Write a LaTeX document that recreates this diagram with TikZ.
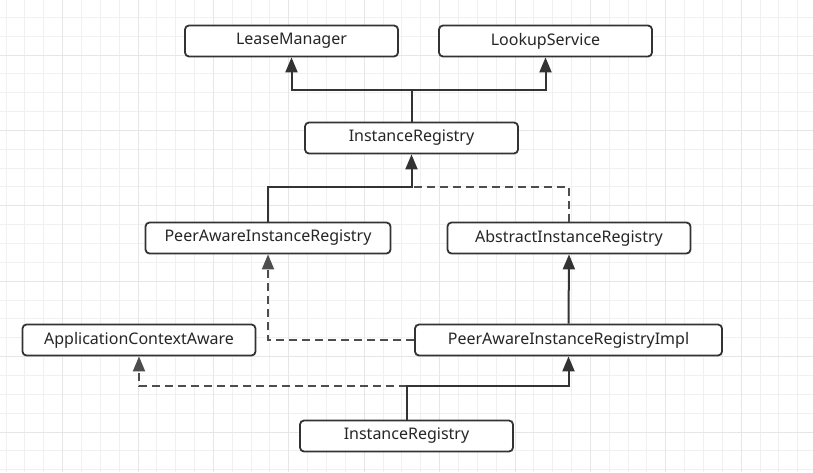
\documentclass[tikz,border=0pt]{standalone}
\usepackage{fontspec}
\setmainfont{Noto Sans}
\usetikzlibrary{arrows.meta}
\definecolor{gridminor}{HTML}{F0F0F0}
\definecolor{gridmajor}{HTML}{E6E6E6}
\definecolor{boxline}{HTML}{333333}
\definecolor{dashline}{HTML}{4D4D4D}
\begin{document}
\begin{tikzpicture}[x=1pt,y=-1pt,
  cls/.style={draw=boxline,line width=1.8pt,rounded corners=4pt,fill=white,
    minimum height=31pt,inner sep=0pt,font=\fontsize{16}{18}\selectfont,text=black!85},
  inh/.style={draw=boxline,line width=2pt,-{Triangle[width=12pt,length=15pt]}},
  impl/.style={draw=dashline,line width=2pt,dash pattern=on 8pt off 5pt,-{Triangle[width=12pt,length=15pt]}},
  implnoarrow/.style={draw=dashline,line width=2pt,dash pattern=on 8pt off 5pt}]
\useasboundingbox (0,0) rectangle (813,472);
\fill[white] (0,0) rectangle (813,472);
% grid
\foreach \i in {0,...,43} {
  \pgfmathsetmacro\gx{6+18.85*\i}
  \draw[gridminor,line width=0.9pt] (\gx,0) -- (\gx,472);
}
\foreach \i in {0,...,25} {
  \pgfmathsetmacro\gy{-1.6+18.85*\i}
  \draw[gridminor,line width=0.9pt] (0,\gy) -- (813,\gy);
}
\foreach \i in {0,...,10} {
  \pgfmathsetmacro\gx{62.55+75.4*\i}
  \draw[gridmajor,line width=0.9pt] (\gx,0) -- (\gx,472);
}
\foreach \i in {0,...,6} {
  \pgfmathsetmacro\gy{-20.45+75.4*\i}
  \draw[gridmajor,line width=0.9pt] (0,\gy) -- (813,\gy);
}
% nodes
\node[cls,minimum width=213pt] (lease) at (291.5,41) {LeaseManager};
\node[cls,minimum width=213pt] (lookup) at (545.5,41) {LookupService};
\node[cls,minimum width=213pt] (ir1) at (411.5,138) {InstanceRegistry};
\node[cls,minimum width=245pt] (pair) at (268,238) {PeerAwareInstanceRegistry};
\node[cls,minimum width=243pt] (air) at (569,238) {AbstractInstanceRegistry};
\node[cls,minimum width=233pt] (aca) at (139,340) {ApplicationContextAware};
\node[cls,minimum width=307pt] (impl) at (568.5,340) {PeerAwareInstanceRegistryImpl};
\node[cls,minimum width=213pt] (ir2) at (406.5,436) {InstanceRegistry};
% junction coordinates
\coordinate (j1) at (411.5,90);
\coordinate (j2) at (411.5,187);
\coordinate (j3) at (406.5,386);
% connectors
\draw[inh] (ir1.north) -- (j1) -| (lease.south);
\draw[inh] (j1) -| (lookup.south);
\draw[implnoarrow] (air.north) |- (j2);
\draw[inh] (pair.north) |- (j2) -- (ir1.south);
\draw[inh] (impl.north) -- (air.south);
\draw[impl] (impl.west) -| (pair.south);
\draw[impl] (j3) -| (aca.south);
\draw[inh] (ir2.north) -- (j3) -| (impl.south);
\end{tikzpicture}
\end{document}
